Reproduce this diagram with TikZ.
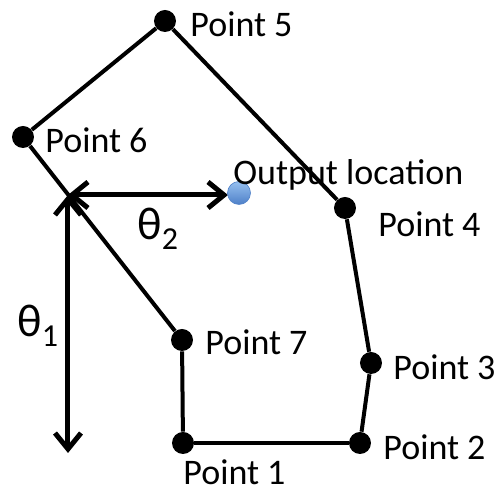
\documentclass[tikz,border=0pt]{standalone}
\usepackage{fontspec}
\setmainfont{Carlito}
\usetikzlibrary{arrows.meta}
\definecolor{dotblue}{RGB}{108,158,222}
\definecolor{dotbluelight}{RGB}{150,192,240}
\definecolor{dotbluedark}{RGB}{78,128,200}
\begin{document}
\begin{tikzpicture}[x=0.5pt,y=-0.5pt,
  pt/.style={circle,fill=black,minimum size=11pt,inner sep=0pt},
  outdot/.style={circle,top color=dotbluelight,bottom color=dotbluedark,draw=dotbluedark,line width=0.3pt,minimum size=11.5pt,inner sep=0pt},
  edge/.style={line width=2pt},
  dim/.style={line width=2.5pt,{Straight Barb[length=8pt,width=13pt]}-{Straight Barb[length=8pt,width=13pt]}},
  lbl/.style={anchor=base west,inner sep=0pt,font=\fontsize{18}{20}\selectfont},
  theta/.style={anchor=base west,inner sep=0pt}]
\useasboundingbox (0,0) rectangle (500,491);
% points
\node[pt] (p5) at (165,21) {};
\node[pt] (p6) at (23,137) {};
\node[pt] (p4) at (345,208) {};
\node[pt] (p3) at (371,363) {};
\node[pt] (p2) at (360,443) {};
\node[pt] (p1) at (183,443) {};
\node[pt] (p7) at (182,340) {};
% polygon
\draw[edge] (p5) -- (p6);
\draw[edge] (p5) -- (p4);
\draw[edge] (p4) -- (p3);
\draw[edge] (p3) -- (p2);
\draw[edge] (p2) -- (p1);
\draw[edge] (p1) -- (p7);
\draw[edge] (p7) -- (p6);
% dimension arrows
\coordinate (o) at (68,195);
\coordinate (vb) at (68,453);
\coordinate (hr) at (228,195);
\draw[dim] (o) -- (hr);
\draw[dim] (o) -- (vb);
% output location
\node[outdot] (out) at (239,193) {};
% labels
\node[lbl] (l5) at (190,37) {Point 5};
\node[lbl] (l6) at (45,153) {Point 6};
\node[lbl] (l4) at (378,237) {Point 4};
\node[lbl] (lo) at (233,185) {Output location};
\node[lbl] (l3) at (393,380) {Point 3};
\node[lbl] (l2) at (383,460) {Point 2};
\node[lbl] (l1) at (183,485) {Point 1};
\node[lbl] (l7) at (205,355) {Point 7};
\node[theta] (t2) at (137,240) {\fontsize{23}{24}\selectfont θ\raisebox{-5pt}{\fontsize{16}{18}\selectfont 2}};
\node[theta] (t1) at (17,337) {\fontsize{23}{24}\selectfont θ\raisebox{-5pt}{\fontsize{16}{18}\selectfont 1}};
\end{tikzpicture}
\end{document}
